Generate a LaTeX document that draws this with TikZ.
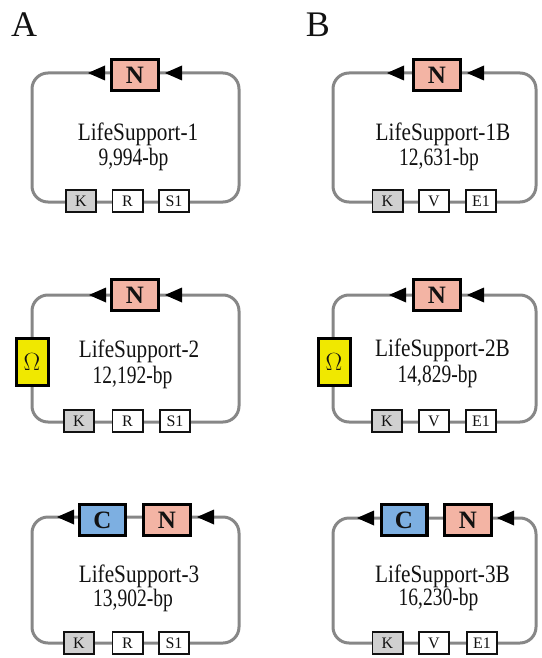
\documentclass[tikz,border=0pt]{standalone}
\usepackage{fontspec}
\setmainfont{Liberation Serif}
\usepackage{graphicx}
\definecolor{loopgray}{RGB}{135,135,135}
\definecolor{nfill}{RGB}{243,180,164}
\definecolor{cfill}{RGB}{125,175,225}
\definecolor{ofill}{RGB}{240,232,0}
\definecolor{kfill}{RGB}{208,208,208}
\definecolor{ink}{RGB}{18,18,18}
% narrow set for plasmid names and sizes
\newcommand{\squeeze}[1]{\scalebox{0.85}[1]{#1}}
\newcommand{\tight}[1]{\scalebox{0.78}[1]{#1}}

\begin{document}
\begin{tikzpicture}[x=1pt,y=-1pt,
  backbone/.style={draw=loopgray,line width=3pt,rounded corners=16pt},
  gene/.style={draw=black,line width=3.2pt,minimum width=46.8pt,minimum height=30.8pt,
    inner sep=0pt,font=\fontsize{25}{25}\selectfont\bfseries,text=ink},
  nbox/.style={gene,fill=nfill},
  cbox/.style={gene,fill=cfill,minimum width=45.8pt},
  obox/.style={draw=black,line width=3pt,fill=ofill,minimum width=32pt,minimum height=47pt,
    inner sep=0pt,font=\fontsize{27}{27}\selectfont,text=ink},
  partbox/.style={draw=ink,line width=1.8pt,fill=white,minimum width=30.2pt,minimum height=22.2pt,
    inner sep=0pt,font=\fontsize{16}{16}\selectfont,text=ink},
  kpart/.style={partbox,fill=kfill},
  lstext/.style={anchor=base,inner sep=0pt,font=\fontsize{25}{25}\selectfont,text=ink},
  paneltag/.style={anchor=center,inner sep=0pt,font=\fontsize{36}{36}\selectfont,text=ink},
  larrow/.pic={\fill[black] (0,0) -- (17,-7.5) -- (17,7.5) -- cycle;}
]
\useasboundingbox (0,0) rectangle (541,658);

% panel letters
\node[paneltag] (labA) at (24,24.5) {A};
\node[paneltag] (labB) at (318,24.5) {B};

% ---------- column A ----------
% LifeSupport-1
\draw[backbone] (32,73) rectangle (239,202);
\node[nbox] (a1n) at (135,75) {N};
\pic at (88,73) {larrow};
\pic at (165,73) {larrow};
\node[lstext] (a1t) at (138,140.5) {\squeeze{LifeSupport-1}};
\node[lstext] (a1b) at (133.5,165.5) {\tight{9,994-bp}};
\node[kpart] (a1k) at (81,201) {K};
\node[partbox] (a1r) at (127.5,201) {R};
\node[partbox] (a1s) at (174,201) {S1};

% LifeSupport-2
\draw[backbone] (32,295) rectangle (239,422);
\node[nbox] (a2n) at (135,295) {N};
\pic at (89,295) {larrow};
\pic at (165,295) {larrow};
\node[obox] (a2o) at (32,362) {$\Omega$};
\node[lstext] (a2t) at (139,357) {\squeeze{LifeSupport-2}};
\node[lstext] (a2b) at (132.5,383) {\tight{12,192-bp}};
\node[kpart] (a2k) at (79,421) {K};
\node[partbox] (a2r) at (127.5,421) {R};
\node[partbox] (a2s) at (175,421) {S1};

% LifeSupport-3
\draw[backbone] (32,517) rectangle (239,643);
\node[cbox] (a3c) at (102.5,520) {C};
\node[nbox] (a3n) at (167,520) {N};
\pic at (57,517) {larrow};
\pic at (197,517) {larrow};
\node[lstext] (a3t) at (139,582) {\squeeze{LifeSupport-3}};
\node[lstext] (a3b) at (133,606) {\tight{13,902-bp}};
\node[kpart] (a3k) at (79,643) {K};
\node[partbox] (a3r) at (127.5,643) {R};
\node[partbox] (a3s) at (174,643) {S1};

% ---------- column B ----------
% LifeSupport-1B
\draw[backbone] (333,73) rectangle (536,202);
\node[nbox] (b1n) at (437,75) {N};
\pic at (387,73) {larrow};
\pic at (467,73) {larrow};
\node[lstext] (b1t) at (443,140.5) {\squeeze{LifeSupport-1B}};
\node[lstext] (b1b) at (439,165.5) {\tight{12,631-bp}};
\node[kpart] (b1k) at (387.5,201) {K};
\node[partbox] (b1v) at (434,201) {V};
\node[partbox] (b1e) at (481,201) {E1};

% LifeSupport-2B
\draw[backbone] (333,295) rectangle (536,422);
\node[nbox] (b2n) at (437,295) {N};
\pic at (389,295) {larrow};
\pic at (467,295) {larrow};
\node[obox] (b2o) at (334,362) {$\Omega$};
\node[lstext] (b2t) at (442.5,356.5) {\squeeze{LifeSupport-2B}};
\node[lstext] (b2b) at (437.5,382) {\tight{14,829-bp}};
\node[kpart] (b2k) at (387,421) {K};
\node[partbox] (b2v) at (434,421) {V};
\node[partbox] (b2e) at (481,421) {E1};

% LifeSupport-3B
\draw[backbone] (333,518) rectangle (536,643);
\node[cbox] (b3c) at (404,520) {C};
\node[nbox] (b3n) at (468,520) {N};
\pic at (357,518) {larrow};
\pic at (497,518) {larrow};
\node[lstext] (b3t) at (442.5,582) {\squeeze{LifeSupport-3B}};
\node[lstext] (b3b) at (438.5,605.5) {\tight{16,230-bp}};
\node[kpart] (b3k) at (387.5,643) {K};
\node[partbox] (b3v) at (434,643) {V};
\node[partbox] (b3e) at (482,643) {E1};
\end{tikzpicture}
\end{document}
